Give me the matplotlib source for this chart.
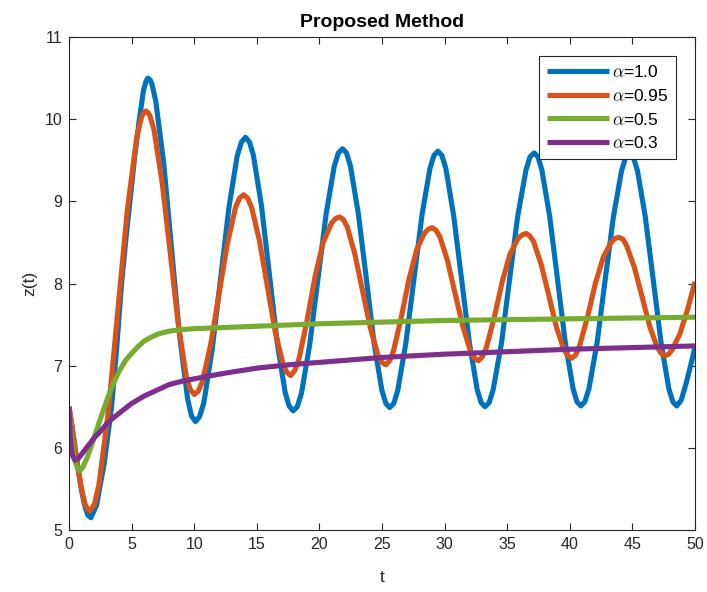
import matplotlib
matplotlib.use("Agg")
import matplotlib.pyplot as plt

# ---------------- data ----------------
t_a10 = [0, 0.25, 0.5, 0.75, 1.0, 1.25, 1.5, 1.75,
         2.2, 2.8, 3.4, 3.8, 4.2, 4.55, 4.87, 5.25, 5.62, 5.95, 6.15, 6.3,
         6.47, 6.62, 6.93, 7.57, 8.2, 8.83, 9.47, 9.78, 10.1,
         10.43, 10.77, 11.43, 12.1, 12.77, 13.43, 13.77, 14.1,
         14.42, 14.73, 15.37, 16.0, 16.63, 17.27, 17.58, 17.9,
         18.23, 18.56, 19.22, 19.88, 20.53, 21.19, 21.52, 21.85,
         22.16, 22.48, 23.11, 23.74, 24.36, 24.99, 25.31, 25.62,
         25.94, 26.26, 26.9, 27.55, 28.19, 28.83, 29.15, 29.47,
         29.78, 30.1, 30.72, 31.35, 31.98, 32.6, 32.92, 33.23,
         33.56, 33.88, 34.54, 35.19, 35.84, 36.5, 36.82, 37.15,
         37.46, 37.77, 38.39, 39.02, 39.64, 40.26, 40.57, 40.88,
         41.2, 41.53, 42.18, 42.83, 43.48, 44.13, 44.45, 44.78,
         45.09, 45.41, 46.03, 46.66, 47.29, 47.91, 48.23, 48.54,
         48.9, 49.3, 49.65, 50.0]
z_a10 = [6.5, 6.25, 5.98, 5.72, 5.48, 5.3, 5.18, 5.15,
         5.3, 5.8, 6.5, 7.2, 8.0, 8.55, 9.0, 9.55, 10.0, 10.35, 10.46, 10.5,
         10.48, 10.43, 10.22, 9.46, 8.41, 7.37, 6.60, 6.39, 6.32,
         6.38, 6.55, 7.19, 8.05, 8.92, 9.55, 9.72, 9.78,
         9.72, 9.56, 8.95, 8.12, 7.28, 6.67, 6.51, 6.45,
         6.50, 6.66, 7.25, 8.05, 8.84, 9.43, 9.59, 9.64,
         9.59, 9.43, 8.85, 8.07, 7.28, 6.70, 6.54, 6.49,
         6.54, 6.70, 7.27, 8.05, 8.83, 9.40, 9.56, 9.61,
         9.56, 9.40, 8.83, 8.06, 7.28, 6.71, 6.55, 6.50,
         6.55, 6.71, 7.27, 8.05, 8.82, 9.38, 9.54, 9.59,
         9.54, 9.38, 8.82, 8.05, 7.28, 6.72, 6.56, 6.51,
         6.56, 6.72, 7.28, 8.05, 8.81, 9.37, 9.53, 9.58,
         9.53, 9.37, 8.81, 8.05, 7.28, 6.72, 6.56, 6.51,
         6.58, 6.79, 7.0, 7.23]

t_a095 = [0, 0.25, 0.5, 0.75, 1.0, 1.25, 1.45, 1.65,
          2.03, 2.4, 3.15, 3.9, 4.65, 5.4, 5.78, 5.97, 6.15,
          6.31, 6.47, 6.79, 7.43, 8.08, 8.72, 9.36, 9.68, 10.0,
          10.33, 10.66, 11.32, 11.98, 12.63, 13.29, 13.62, 13.95,
          14.26, 14.58, 15.2, 15.83, 16.45, 17.08, 17.39, 17.7,
          18.03, 18.35, 19.0, 19.65, 20.3, 20.95, 21.28, 21.6,
          21.91, 22.22, 22.83, 23.45, 24.07, 24.68, 24.99, 25.3,
          25.61, 25.92, 26.53, 27.15, 27.77, 28.38, 28.69, 29.0,
          29.31, 29.62, 30.23, 30.85, 31.47, 32.08, 32.39, 32.7,
          33.02, 33.33, 33.97, 34.6, 35.23, 35.87, 36.18, 36.5,
          36.8, 37.11, 37.72, 38.33, 38.93, 39.54, 39.85, 40.15,
          40.47, 40.78, 41.41, 42.04, 42.67, 43.3, 43.62, 43.93,
          44.24, 44.54, 45.15, 45.77, 46.38, 46.99, 47.29, 47.6,
          47.9, 48.2, 48.8, 49.4, 50.0]
z_a095 = [6.5, 6.25, 5.98, 5.73, 5.5, 5.33, 5.26, 5.23,
          5.31, 5.56, 6.45, 7.67, 8.88, 9.77, 10.02, 10.08, 10.1,
          10.08, 10.04, 9.87, 9.24, 8.38, 7.51, 6.88, 6.71, 6.65,
          6.69, 6.81, 7.26, 7.87, 8.47, 8.92, 9.04, 9.08,
          9.04, 8.93, 8.53, 7.98, 7.43, 7.03, 6.92, 6.88,
          6.94, 7.07, 7.54, 8.08, 8.50, 8.73, 8.79, 8.81,
          8.78, 8.69, 8.36, 7.91, 7.46, 7.13, 7.04, 7.01,
          7.06, 7.18, 7.58, 8.05, 8.41, 8.61, 8.66, 8.68,
          8.65, 8.57, 8.28, 7.87, 7.47, 7.17, 7.09, 7.06,
          7.11, 7.22, 7.59, 8.02, 8.36, 8.55, 8.59, 8.61,
          8.58, 8.51, 8.23, 7.85, 7.47, 7.19, 7.12, 7.09,
          7.13, 7.24, 7.59, 8.0, 8.32, 8.5, 8.55, 8.56,
          8.54, 8.46, 8.2, 7.84, 7.48, 7.22, 7.15, 7.12,
          7.14, 7.2, 7.39, 7.68, 8.02]

t_a05 = [0, 0.15, 0.35, 0.55, 0.85, 1.1, 1.5, 2.0, 2.5, 3.0, 3.5, 4.0,
         4.5, 5.0, 5.5, 6.0, 6.6, 7.2, 8.0, 9.0, 10, 15, 20, 25, 30,
         35, 40, 45, 50]
z_a05 = [6.5, 6.2, 5.94, 5.8, 5.72, 5.76, 5.9, 6.12, 6.35, 6.57, 6.77, 6.93,
         7.06, 7.15, 7.23, 7.3, 7.35, 7.39, 7.42, 7.44, 7.45, 7.48, 7.51,
         7.53, 7.55, 7.56, 7.57, 7.58, 7.59]

t_a03 = [0, 0.1, 0.2, 0.3, 0.48, 0.75, 1.0, 1.5, 2.0, 2.5, 3.0, 3.5, 4.0,
         5.0, 6.0, 7.0, 8.0, 9.0, 10, 12.5, 15, 17.5, 20, 22.5, 25, 27.5,
         30, 35, 40, 45, 50]
z_a03 = [6.5, 6.15, 5.97, 5.9, 5.85, 5.87, 5.92, 6.02, 6.12, 6.2, 6.29,
         6.36, 6.42, 6.54, 6.63, 6.7, 6.77, 6.81, 6.84, 6.91, 6.97, 7.01,
         7.04, 7.07, 7.1, 7.12, 7.14, 7.17, 7.2, 7.22, 7.24]

labels = [r'$\alpha$=1.0', r'$\alpha$=0.95', r'$\alpha$=0.5', r'$\alpha$=0.3']
colors = ['#0072BD', '#D95319', '#77AC30', '#7E2F8E']
x_ticks = [0, 5, 10, 15, 20, 25, 30, 35, 40, 45, 50]
y_ticks = [5, 6, 7, 8, 9, 10, 11]
title = 'Proposed Method'
xlabel = 't'
ylabel = 'z(t)'

# ---------------- plotting ----------------
plt.rcParams['font.family'] = ['Liberation Sans', 'DejaVu Sans']
plt.rcParams['mathtext.fontset'] = 'cm'

fig = plt.figure(figsize=(7.07, 5.92), dpi=100)
ax = fig.add_axes([69/707, 1 - 530/592, (695 - 69)/707, (530 - 37)/592])

series = [(t_a10, z_a10), (t_a095, z_a095), (t_a05, z_a05), (t_a03, z_a03)]
for (tt, zz), c, lab in zip(series, colors, labels):
    ax.plot(tt, zz, color=c, lw=3.7, label=lab,
            solid_joinstyle='round', solid_capstyle='butt')

ax.set_xlim(0, 50)
ax.set_ylim(5, 11)
ax.set_xticks(x_ticks)
ax.set_yticks(y_ticks)
gray = '#262626'
ax.tick_params(direction='in', top=True, right=True, length=5, width=0.8,
               labelsize=11.5, colors=gray, pad=5)
for s in ax.spines.values():
    s.set_color(gray)
    s.set_linewidth(0.8)

ax.set_title(title, fontsize=14, fontweight='bold', color='black', pad=7)
ax.set_xlabel(xlabel, fontsize=12.5, color=gray, labelpad=13)
ax.set_ylabel(ylabel, fontsize=12.5, color=gray, labelpad=5)

leg = ax.legend(loc='upper right', fontsize=12.5, handlelength=3.6,
                handletextpad=0.15, borderaxespad=1.1, labelspacing=0.45,
                fancybox=False, framealpha=1, edgecolor=gray,
                borderpad=0.45)
leg.get_frame().set_linewidth(0.8)

fig.savefig('out.png', dpi=100)
